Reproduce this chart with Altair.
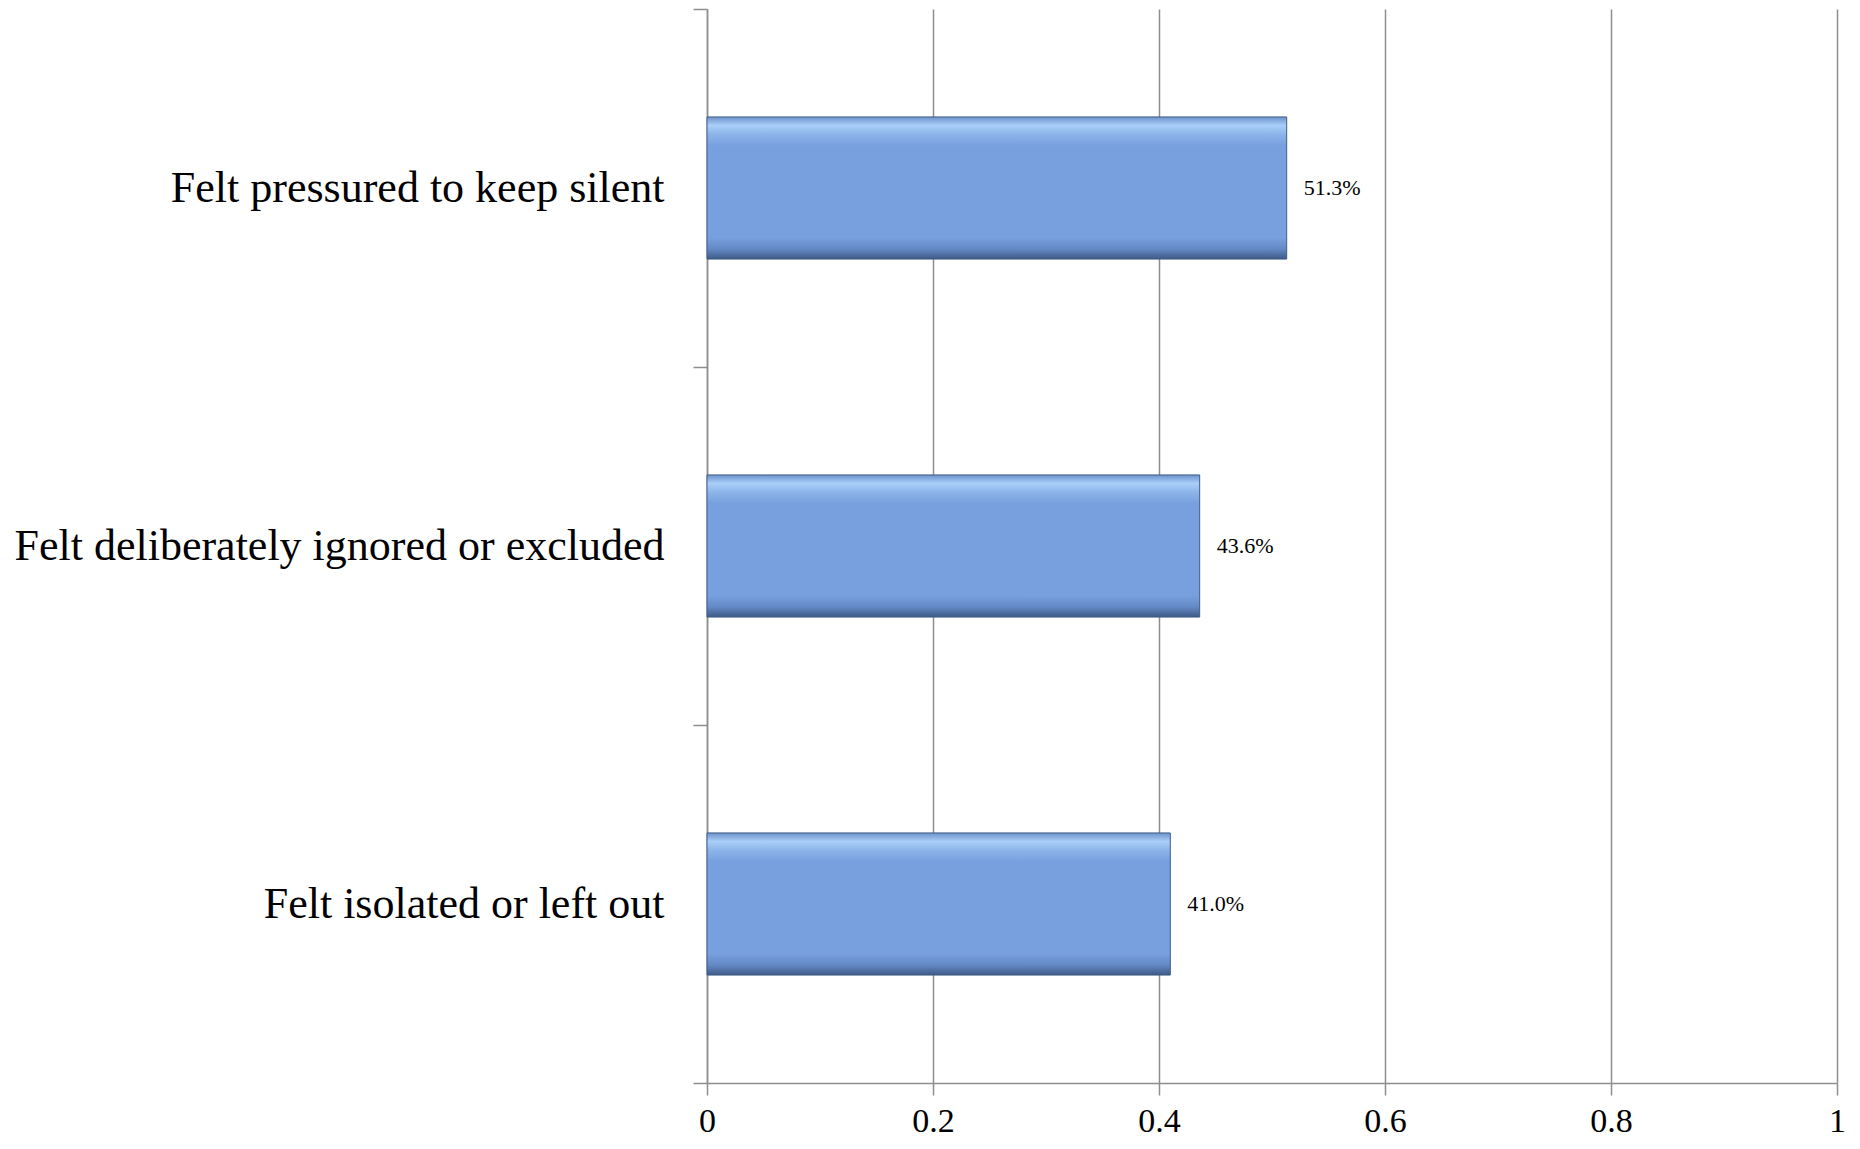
import altair as alt
import pandas as pd

categories = [
    "Felt pressured to keep silent",
    "Felt deliberately ignored or excluded",
    "Felt isolated or left out",
]
values = [0.513, 0.436, 0.410]
x_ticks = [0, 0.2, 0.4, 0.6, 0.8, 1]

df = pd.DataFrame({"category": categories, "value": values})

GRAY = "#8e8e8e"
SERIF = "Liberation Serif"

bar_fill = alt.Gradient(
    gradient="linear",
    x1=0, y1=0, x2=0, y2=1,
    stops=[
        alt.GradientStop(color="#6d92cc", offset=0.0),
        alt.GradientStop(color="#a9cff8", offset=0.06),
        alt.GradientStop(color="#8db5ea", offset=0.12),
        alt.GradientStop(color="#78a0de", offset=0.2),
        alt.GradientStop(color="#78a0de", offset=0.85),
        alt.GradientStop(color="#6389c4", offset=0.93),
        alt.GradientStop(color="#3e5a86", offset=1.0),
    ],
)

y_enc = alt.Y(
    "category:N",
    sort=categories,
    title=None,
    scale=alt.Scale(paddingInner=0, paddingOuter=0),
    axis=alt.Axis(
        tickBand="extent",
        labelFont=SERIF,
        labelFontSize=44,
        labelColor="#000000",
        labelPadding=29,
        labelLimit=2000,
        tickSize=14,
        tickColor=GRAY,
        tickWidth=1.5,
        domainColor=GRAY,
        domainWidth=1.5,
        grid=False,
    ),
)

x_enc = alt.X(
    "value:Q",
    title=None,
    scale=alt.Scale(domain=[0, 1], nice=False),
    axis=alt.Axis(
        values=x_ticks,
        format="~g",
        labelFont=SERIF,
        labelFontSize=34,
        labelColor="#000000",
        labelPadding=9,
        tickSize=12,
        tickColor=GRAY,
        tickWidth=1.5,
        domainColor=GRAY,
        domainWidth=1.5,
        grid=True,
        gridColor=GRAY,
        gridWidth=1.5,
        labelFlush=False,
    ),
)

bars = alt.Chart(df).mark_bar(
    height=alt.RelativeBandSize(0.397),
    fill=bar_fill,
    stroke="#3f5c88",
    strokeWidth=1,
).encode(x=x_enc, y=y_enc)

labels = alt.Chart(df).mark_text(
    align="left",
    baseline="middle",
    dx=17,
    font=SERIF,
    fontSize=22,
    color="#000000",
).encode(
    x=alt.X("value:Q"),
    y=alt.Y("category:N", sort=categories),
    text=alt.Text("value:Q", format=".1%"),
)

chart = (
    alt.layer(bars, labels)
    .properties(
        width=1130,
        height=1074,
        autosize=alt.AutoSizeParams(type="none"),
        padding={"left": 699, "top": 1, "right": 15, "bottom": 58},
        background="#ffffff",
    )
    .configure_view(strokeWidth=0)
)

chart.save("out.html", embed_options={"renderer": "svg", "actions": False})
